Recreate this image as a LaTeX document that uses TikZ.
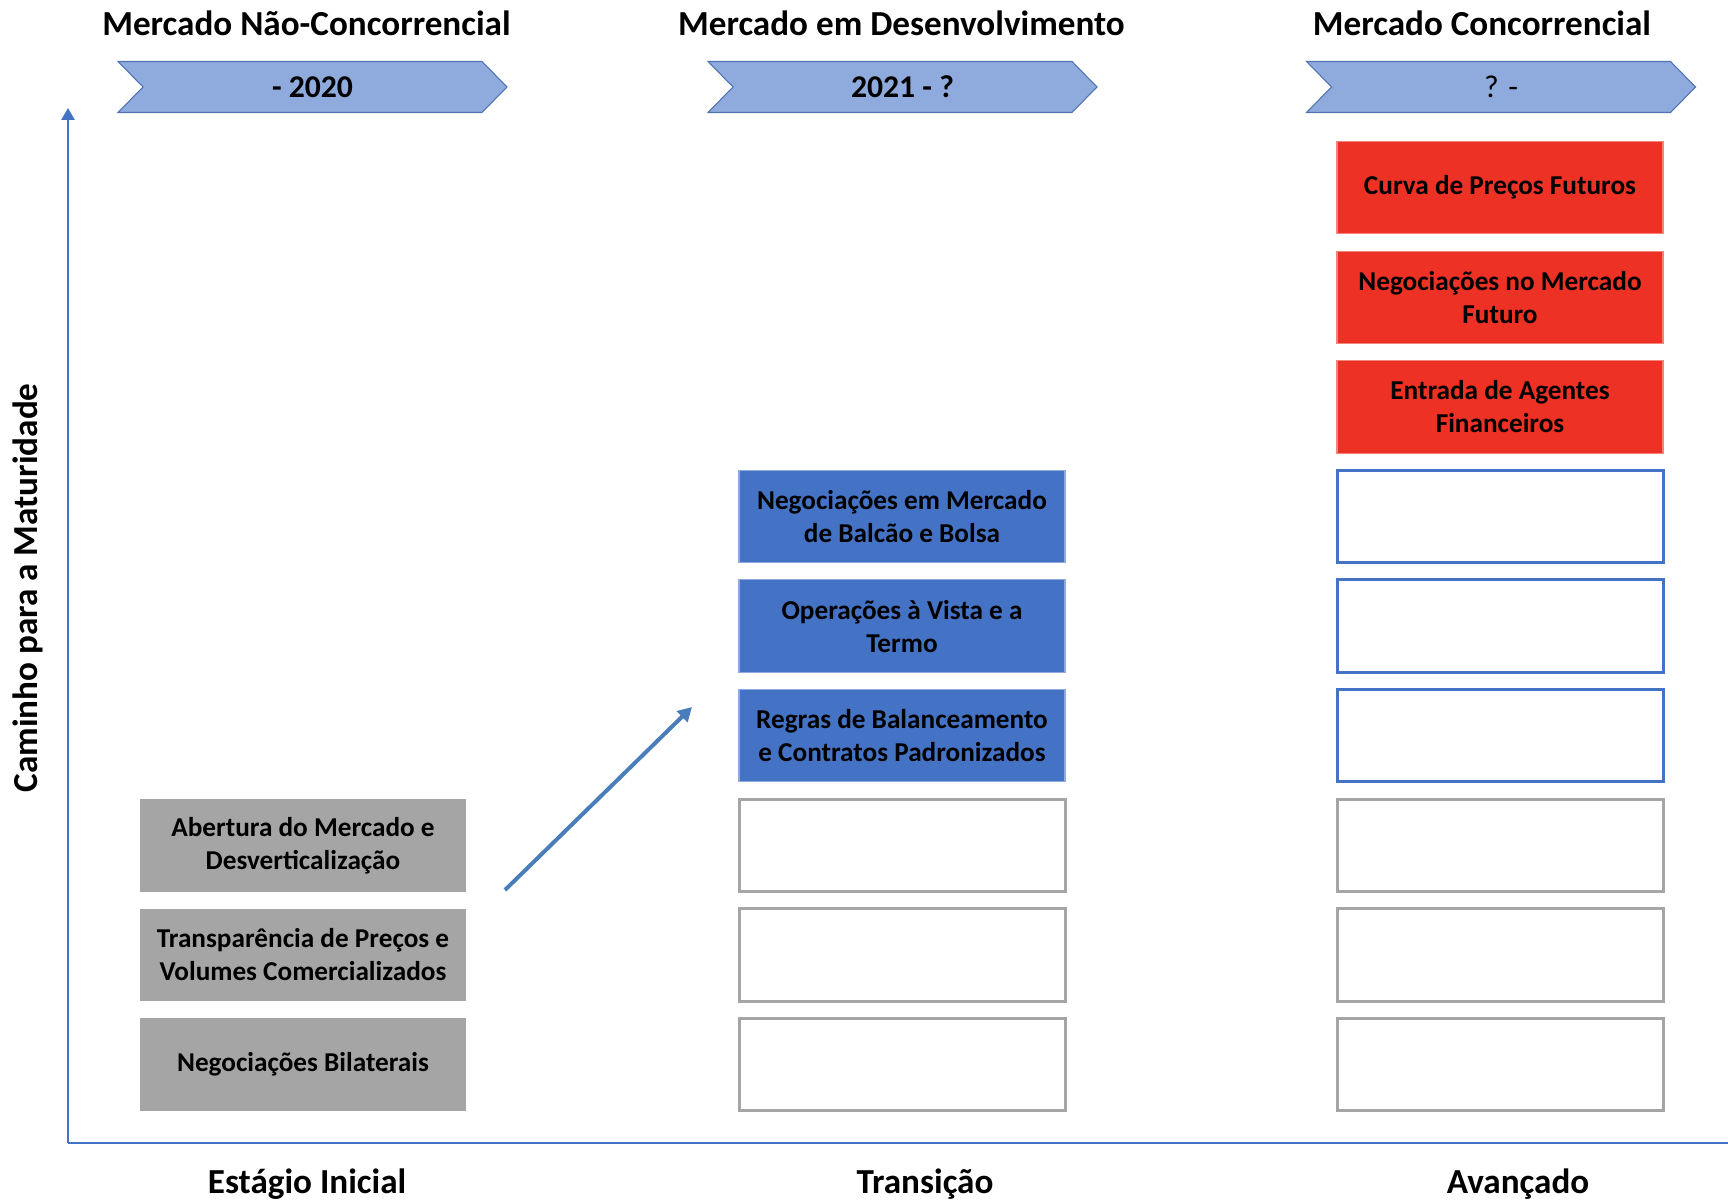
\documentclass[tikz,border=0pt]{standalone}
\usepackage{fontspec}
\setmainfont{Carlito}
\usetikzlibrary{arrows.meta}

\definecolor{axisblue}{RGB}{68,114,196}
\definecolor{arrowblue}{RGB}{74,126,187}
\definecolor{chevfill}{RGB}{143,170,220}
\definecolor{chevline}{RGB}{80,115,180}
\definecolor{redfill}{RGB}{237,49,36}
\definecolor{grayfill}{RGB}{165,165,165}

\tikzset{
  box/.style={minimum width=6.52cm, minimum height=1.85cm, inner sep=0pt, align=center,
    font=\bfseries\fontsize{15.5}{18.8}\selectfont},
  graybox/.style={box, fill=grayfill},
  bluebox/.style={box, fill=axisblue, draw=axisblue!60, line width=0.6pt},
  redbox/.style={box, fill=redfill, draw=redfill!60, line width=0.6pt},
  grayframe/.style={box, draw=grayfill, line width=0.06cm},
  blueframe/.style={box, draw=axisblue, line width=0.06cm},
  header/.style={font=\bfseries\fontsize{20}{24}\selectfont},
  axis/.style={draw=axisblue, line width=0.054cm}
}

\begin{document}
\begin{tikzpicture}
  \useasboundingbox (0,0) rectangle (34.56,23.98);

  % Column titles
  \node[header] (tit1) at (6.13,23.52) {Mercado Não-Concorrencial};
  \node[header] (tit2) at (18.03,23.52) {Mercado em Desenvolvimento};
  \node[header] (tit3) at (29.64,23.52) {Mercado Concorrencial};

  % Period chevrons
  \foreach \cx in {6.25, 18.05, 30.02}
  {
    \draw[fill=chevfill, draw=chevline, line width=0.6pt]
      (\cx-3.89,22.75) -- (\cx+3.39,22.75) -- (\cx+3.89,22.24) -- (\cx+3.39,21.73)
      -- (\cx-3.89,21.73) -- (\cx-3.39,22.24) -- cycle;
  }
  \node[font=\bfseries\fontsize{18}{22}\selectfont] (per1) at (6.25,22.24) {- 2020};
  \node[font=\bfseries\fontsize{18}{22}\selectfont] (per2) at (18.05,22.24) {2021 - ?};
  \node[font=\fontsize{18}{22}\selectfont] (per3) at (30.02,22.24) {? -};

  % Axes
  \coordinate (origin) at (1.36,1.12);
  \coordinate (ytop) at (1.36,21.82);
  \coordinate (xend) at (34.56,1.12);
  \draw[axis, -{Triangle[width=0.26cm, length=0.24cm]}] (origin) -- (ytop);
  \draw[axis] (origin) -- (xend);

  \node[header, rotate=90] (ylab) at (0.56,12.22) {Caminho para a Maturidade};
  \node[header, anchor=base] (stage1) at (6.14,0.12) {Estágio Inicial};
  \node[header, anchor=base] (stage2) at (18.5,0.12) {Transição};
  \node[header, anchor=base] (stage3) at (30.36,0.12) {Avançado};

  % Initial stage
  \node[graybox] (bilat) at (6.06,2.69) {Negociações Bilaterais};
  \node[graybox] (transp) at (6.06,4.882) {Transparência de Preços e\\Volumes Comercializados};
  \node[graybox] (abert) at (6.06,7.074) {Abertura do Mercado e\\Desverticalização};

  % Transition
  \foreach \y [count=\i] in {2.69, 4.882, 7.074}
  {
    \node[grayframe] (trans\i) at (18.04,\y) {};
  }
  \node[bluebox] (regras) at (18.04,9.266) {Regras de Balanceamento\\e Contratos Padronizados};
  \node[bluebox] (vista) at (18.04,11.458) {Operações à Vista e a\\Termo};
  \node[bluebox] (balcao) at (18.04,13.65) {Negociações em Mercado\\de Balcão e Bolsa};

  % Advanced
  \foreach \y [count=\i] in {2.69, 4.882, 7.074}
  {
    \node[grayframe] (adv\i) at (30.0,\y) {};
  }
  \foreach \y [count=\i] in {9.266, 11.458, 13.65}
  {
    \node[blueframe] (advb\i) at (30.0,\y) {};
  }
  \node[redbox] (agentes) at (30.0,15.842) {Entrada de Agentes\\Financeiros};
  \node[redbox] (futuro) at (30.0,18.034) {Negociações no Mercado\\Futuro};
  \node[redbox] (curva) at (30.0,20.226) {Curva de Preços Futuros};

  % Progress arrow
  \coordinate (arrstart) at (10.10,6.18);
  \coordinate (arrend) at (13.84,9.84);
  \draw[draw=arrowblue, line width=0.08cm, -{Triangle[width=0.3cm, length=0.28cm]}] (arrstart) -- (arrend);
\end{tikzpicture}
\end{document}
